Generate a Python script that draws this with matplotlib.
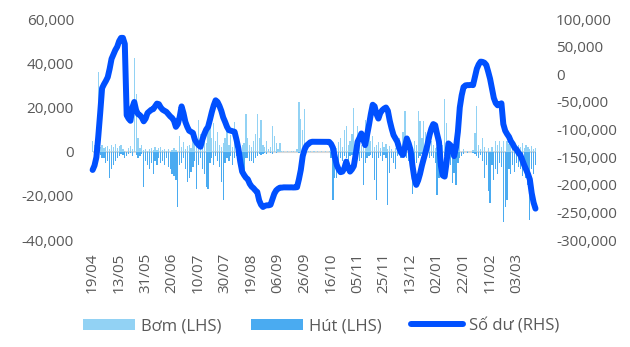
import matplotlib.pyplot as plt
from matplotlib.ticker import FuncFormatter, MultipleLocator

plt.rcParams['font.family'] = ['Open Sans', 'DejaVu Sans']

# x-axis labels, one every 14 trading days
tick_labels = ['19/04', '13/05', '31/05', '20/06', '10/07', '30/07', '19/08',
               '06/09', '26/09', '16/10', '05/11', '25/11', '13/12', '02/01',
               '22/01', '11/02', '03/03']

# Số dư (RHS), daily
balance = [
    -173000, -165000, -150000, -112000, -70000, -25000, -18000, -12000, -5000, 10000,
    28000, 36000, 44000, 50000, 60000, 66000, 66000, 55000, -74000, -80000,
    -84000, -60000, -50000, -65000, -72000, -74000, -78000, -85000, -80000, -70000,
    -67000, -64000, -63000, -58000, -53000, -54000, -60000, -64000, -66000, -68000,
    -72000, -76000, -79000, -84000, -95000, -90000, -77000, -58000, -70000, -86000,
    -95000, -102000, -104000, -106000, -118000, -124000, -128000, -131000, -118000, -108000,
    -100000, -95000, -82000, -68000, -56000, -47000, -50000, -57000, -66000, -78000,
    -86000, -95000, -101000, -102000, -103000, -104000, -118000, -134000, -158000, -176000,
    -182000, -187000, -190000, -198000, -203000, -206000, -210000, -213000, -228000, -236000,
    -240000, -238000, -237000, -237000, -236000, -226000, -216000, -210000, -207000, -205000,
    -205000, -204500, -204600, -204800, -204600, -204500, -204700, -204600, -204200, -190000,
    -173000, -148000, -136000, -129000, -126000, -123000, -122000, -122000, -121800, -122000,
    -122100, -122000, -121900, -122000, -122000, -122200, -126000, -133000, -150000, -164000,
    -172000, -177000, -176000, -170000, -158000, -168000, -176000, -172000, -166000, -145000,
    -122000, -115000, -107000, -118000, -128000, -110000, -92000, -72000, -55000, -58000,
    -72000, -80000, -70000, -65000, -62000, -60000, -66000, -84000, -98000, -110000,
    -116000, -122000, -134000, -142000, -146000, -132000, -116000, -125000, -137000, -165000,
    -188000, -200000, -192000, -180000, -165000, -152000, -140000, -126000, -110000, -98000,
    -90000, -92000, -108000, -122000, -165000, -183000, -185000, -160000, -125000, -128000,
    -134000, -148000, -132000, -104000, -60000, -38000, -23000, -20000, -19500, -19500,
    -19000, -19500, -5000, 10000, 18000, 23000, 22500, 21000, 17000, 5000,
    -8000, -25000, -43000, -52000, -56000, -54000, -52500, -90000, -102000, -108000,
    -113000, -121000, -126000, -133000, -136000, -142000, -146000, -155000, -164000, -172000,
    -180000, -190000, -215000, -232000, -243000,
]

# Bơm (LHS), daily injections
bom = [
    5000, 3000, 4000, 36000, 2000, 3000, 1500, 2000, 2500, 1000,
    3000, 2000, 3500, 1500, 2500, 3000, 1000, 500, 0, 1500,
    2400, 1000, 42600, 26000, 6000, 1500, 3000, 800, 1200, 500,
    1000, 1800, 600, 2200, 900, 1500, 2000, 700, 1200, 500,
    1000, 0, 800, 1500, 600, 0, 7000, 2000, 4500, 1000,
    2500, 3000, 1500, 5000, 6000, 3000, 14500, 8000, 3000, 5500,
    4000, 14500, 12000, 6000, 13000, 5000, 9000, 3000, 2000, 4000,
    6000, 14000, 3000, 7700, 2000, 13600, 5000, 2500, 1500, 3000,
    4000, 17000, 6000, 3000, 2000, 5000, 8000, 17000, 6000, 14500,
    3000, 2000, 4700, 1000, 2000, 11500, 7000, 4000, 1000, 4000,
    500, 300, 0, 200, 0, 300, 500, 0, 1000, 22600,
    15000, 10000, 19500, 3000, 500, 200, 0, 300, 0, 200,
    0, 300, 0, 200, 0, 500, 1500, 3000, 0, 1500,
    4500, 6000, 2000, 10000, 11500, 3000, 5000, 8000, 20000, 4000,
    11500, 7000, 3000, 5000, 14500, 2000, 9000, 4700, 7000, 2000,
    3000, 4500, 1500, 4500, 2000, 3500, 1000, 2500, 1000, 0,
    1500, 3000, 6000, 2000, 9000, 18600, 4000, 3000, 1500, 2000,
    5000, 3000, 18300, 14000, 6000, 14000, 9000, 4000, 2500, 5000,
    3000, 1500, 2000, 4000, 5000, 3000, 23700, 13000, 4000, 2500,
    1500, 3000, 8000, 2000, 6000, 0, 1000, 0, 500, 0,
    0, 800, 8500, 20600, 3000, 1000, 6000, 2000, 0, 1500,
    0, 2000, 0, 4700, 3000, 4700, 2000, 4700, 0, 4700,
    3500, 4700, 2000, 4000, 1500, 3000, 2000, 4000, 1500, 3000,
    2000, 1000, 2500, 1000, 1500,
]

# Hút (LHS), daily withdrawals
hut = [
    0, -1000, 0, -2000, -1500, -3000, -3000, -5000, -4000, -12000,
    -8000, -6000, -4000, -3000, -2000, -1000, -1500, -3000, -2000, -1000,
    -500, -2000, 0, -1500, -3000, -2000, -1000, -16000, -4000, -6000,
    -8000, -5000, -10000, -4000, -6000, -3000, -5000, -4000, -6000, -3000,
    -7000, -8000, -10000, -11000, -13000, -25000, -6000, -5000, -3000, -8000,
    -13500, -12000, -9000, -7000, -4000, -17000, -6000, -3000, -8000, -10000,
    -16000, -17000, -5000, -3000, -6000, -2000, -4000, -7000, -13500, -22000,
    -5000, -3000, -4000, -2000, -6000, -3000, -2000, -5000, -3000, -4000,
    -9500, -3000, -3000, -4400, -4000, -5000, -3000, -2000, -1000, -1500,
    -1000, -500, -1000, 0, -500, -1000, 0, -500, 0, -300,
    0, -200, 0, 0, -300, 0, 0, -200, 0, -500,
    -300, 0, -500, 0, 0, -200, 0, 0, -200, 0,
    0, 0, -200, 0, 0, 0, -3000, -22000, -12000, -12000,
    -6000, -3000, -4000, -2000, -3000, -5000, -2000, -1500, -3000, -1000,
    -2000, -4000, -3000, -15000, -5000, -3000, -2000, -1500, -3000, -12700,
    -22000, -3000, -2000, -4000, -1500, -3000, -24000, -9700, -3000, -5000,
    -8000, -2000, -1000, -3000, -1500, -2000, -3000, -4000, -2000, -19000,
    -8000, -5000, -3000, -2000, -1000, -1500, -2000, -1000, -3000, -2000,
    -3000, -5000, -19500, -12000, -4000, -3000, -2000, -5000, -3000, -6000,
    -14000, -9600, -15000, -5000, -3000, -2000, -1000, 0, -500, 0,
    0, -500, -1000, -2000, -3000, -1500, -4000, -12000, -6000, -18000,
    -23000, -6000, -13000, -8000, -10000, -5000, -7000, -32000, -25000, -22000,
    -8000, -10000, -6000, -9000, -5000, -7000, -8000, -11000, -6000, -12000,
    -15000, -31000, -8000, -10000, -6000,
]

days = list(range(len(balance)))
text_color = '#595959'

fig = plt.figure(figsize=(6.3, 3.47), dpi=100)
ax = fig.add_axes([0.135, 0.308, 0.73, 0.637])

# Bars on the left axis
ax.bar(days, bom, width=0.65, color='#92d2f4', linewidth=0, label='Bơm (LHS)', zorder=2)
ax.bar(days, hut, width=0.65, color='#4aabf1', linewidth=0, label='Hút (LHS)', zorder=2)
ax.hlines(0, days[0], days[-1], color='#d9d9d9', lw=1.5, zorder=1)
ax.set_ylim(-40000, 60000)
ax.set_xlim(-4, 239)
ax.yaxis.set_major_locator(MultipleLocator(20000))

# Balance line on the right axis
ax2 = ax.twinx()
ax2.plot(days, balance, color='#0050ff', lw=4.3, label='Số dư (RHS)',
         solid_joinstyle='round', solid_capstyle='round')
ax2.set_ylim(-300000, 100000)
ax2.yaxis.set_major_locator(MultipleLocator(50000))

fmt = FuncFormatter(lambda x, p: f'{x:,.0f}')
ax.yaxis.set_major_formatter(fmt)
ax2.yaxis.set_major_formatter(fmt)

ax.set_xticks(days[::14])
ax.set_xticklabels(tick_labels, rotation=90)

for a in (ax, ax2):
    for s in a.spines.values():
        s.set_visible(False)
    a.tick_params(length=0, labelsize=11, labelcolor=text_color, pad=8)
ax.tick_params(axis='x', pad=9)

h1, l1 = ax.get_legend_handles_labels()
h2, l2 = ax2.get_legend_handles_labels()
fig.legend(h1 + h2, l1 + l2, loc='center', bbox_to_anchor=(0.51, 0.06),
           ncol=3, frameon=False, fontsize=12, handlelength=3.1,
           handletextpad=0.35, columnspacing=1.8, labelcolor=text_color)

plt.savefig('out.png', dpi=100)
plt.close()
